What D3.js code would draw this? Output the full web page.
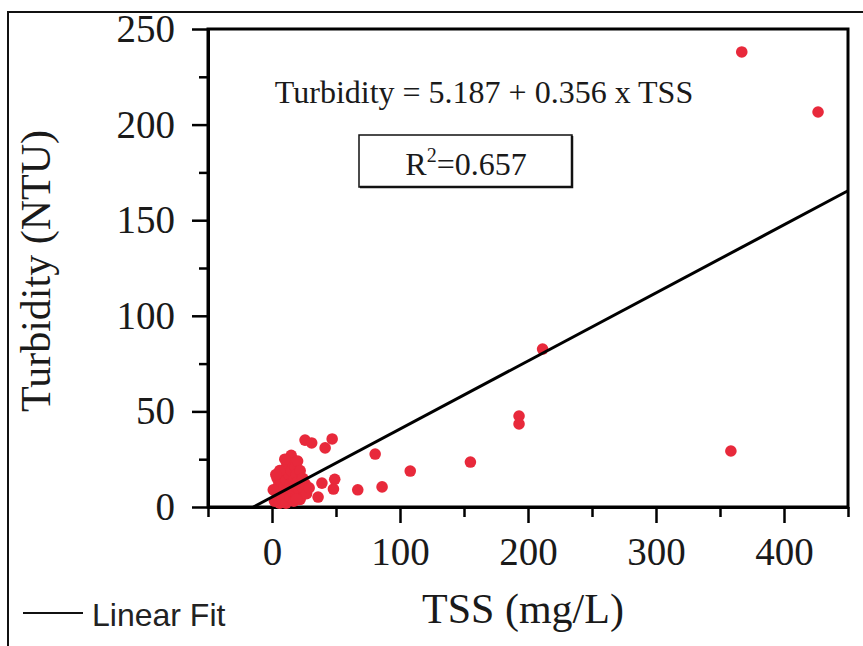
<!DOCTYPE html>
<html>
<head>
<meta charset="utf-8">
<script src="https://cdn.jsdelivr.net/npm/d3@7"></script>
<style>
  body { margin: 0; background: #fff; }
  svg { display: block; }
  .serif { font-family: "Liberation Serif", "Times New Roman", serif; fill: #1a1a1a; }
</style>
</head>
<body>
<svg id="chart"></svg>
<script>
// TSS (mg/L) and Turbidity (NTU) readings
var tss = [2, 3, 4, 5, 5, 6, 7, 7, 8, 8, 9, 10, 10, 11, 11, 12, 12, 13, 13, 14,
    14, 15, 15, 16, 16, 17, 17, 18, 18, 19, 19, 20, 20, 21, 22, 22, 24, 24, 26, 27,
    29, 10, 6, 3, 1, 19, 25.8, 31, 41.5, 47, 36, 39, 49, 48, 67, 80.6, 86, 108, 155,
    193, 193, 211.4, 358.5, 367, 426.6];
var turbidity = [3, 8, 15, 11, 5, 2, 7, 13, 17, 4, 10, 20, 6, 14, 2, 22, 9, 17, 25, 12,
    5, 19, 27, 8, 23, 14, 3, 21, 11, 17, 6, 24, 13, 9, 19, 4, 15, 10, 12, 7,
    10, 25, 19, 17, 9, 4, 35, 33.5, 30.9, 35.6, 5.2, 12.5, 14.5, 9.4, 9, 27.7, 10.5, 18.8, 23.5,
    47.6, 43.4, 82.6, 29.3, 238, 206.6];

var xMajor = [0, 100, 200, 300, 400];
var xMinor = [-50, 50, 150, 250, 350, 450];
var yMajor = [0, 50, 100, 150, 200, 250];
var yMinor = [25, 75, 125, 175, 225];

var intercept = 5.187;
var slope = 0.356;
var rSquared = "0.657";

var width = 863, height = 646;
var margin = { left: 208, top: 29, right: 15, bottom: 139 };

var svg = d3.select("#chart").attr("width", width).attr("height", height);

var x = d3.scaleLinear().domain([-50, 450]).range([margin.left, width - margin.right]);
var y = d3.scaleLinear().domain([0, 250]).range([height - margin.bottom, margin.top]);

// outer frame (cropped at right/bottom)
svg.append("path")
    .attr("d", "M8,646 L8,12 L863,12")
    .attr("fill", "none")
    .attr("stroke", "#111")
    .attr("stroke-width", 2);

// plot box
svg.append("rect")
    .attr("x", x(-50)).attr("y", y(250))
    .attr("width", x(450) - x(-50)).attr("height", y(0) - y(250))
    .attr("fill", "none").attr("stroke", "#000").attr("stroke-width", 3);

// minor ticks
var yMinorAxis = d3.axisLeft(y).tickValues(yMinor).tickSize(9).tickSizeOuter(0).tickFormat("");
var xMinorAxis = d3.axisBottom(x).tickValues(xMinor).tickSize(10).tickSizeOuter(0).tickFormat("");

svg.append("g").attr("transform", "translate(" + x(-50) + ",0)").call(yMinorAxis);
svg.append("g").attr("transform", "translate(0," + y(0) + ")").call(xMinorAxis);

var yAxis = d3.axisLeft(y).tickValues(yMajor).tickSize(16).tickSizeOuter(0).tickPadding(17);
var xAxis = d3.axisBottom(x).tickValues(xMajor).tickSize(16).tickSizeOuter(0).tickPadding(14);

var gy = svg.append("g").attr("transform", "translate(" + x(-50) + ",0)").call(yAxis);
var gx = svg.append("g").attr("transform", "translate(0," + y(0) + ")").call(xAxis);

svg.selectAll(".domain").attr("stroke", "#000").attr("stroke-width", 3);
svg.selectAll(".tick line").attr("stroke", "#000").attr("stroke-width", 2.5);
svg.selectAll(".tick text")
    .attr("class", "serif")
    .style("font-size", "39px");

// points
var pts = tss.map(function (d, i) { return [d, turbidity[i]]; });
svg.append("g").selectAll("circle")
    .data(pts)
    .enter().append("circle")
    .attr("cx", function (d) { return x(d[0]); })
    .attr("cy", function (d) { return y(d[1]); })
    .attr("r", 5.8)
    .attr("fill", "#e8293b");

// fit line
var x0 = -intercept / slope;
svg.append("line")
    .attr("x1", x(x0)).attr("y1", y(intercept + slope * x0))
    .attr("x2", x(450)).attr("y2", y(intercept + slope * 450))
    .attr("stroke", "#000").attr("stroke-width", 3);

// equation
svg.append("text")
    .attr("class", "serif")
    .attr("x", 484).attr("y", 103)
    .attr("text-anchor", "middle")
    .style("font-size", "32px")
    .text("Turbidity = " + intercept + " + " + slope + " x TSS");

// R2 box
svg.append("rect")
    .attr("x", 359).attr("y", 135).attr("width", 213).attr("height", 52)
    .attr("fill", "#fff").attr("stroke", "#111").attr("stroke-width", 1.5);
svg.append("path")
    .attr("d", "M572,136 L572,187 L360,187")
    .attr("fill", "none").attr("stroke", "#111").attr("stroke-width", 2.5);
var r2 = svg.append("text")
    .attr("class", "serif")
    .attr("x", 466).attr("y", 175)
    .attr("text-anchor", "middle")
    .style("font-size", "32px");
r2.append("tspan").text("R");
r2.append("tspan").attr("dy", -13).style("font-size", "20px").text("2");
r2.append("tspan").attr("dy", 13).text("=" + rSquared);

// axis titles
svg.append("text")
    .attr("class", "serif")
    .attr("transform", "translate(50," + 271 + ") rotate(-90)")
    .attr("text-anchor", "middle")
    .style("font-size", "42px")
    .text("Turbidity (NTU)");

svg.append("text")
    .attr("class", "serif")
    .attr("x", 523).attr("y", 623)
    .attr("text-anchor", "middle")
    .style("font-size", "42px")
    .text("TSS (mg/L)");

// legend
svg.append("line")
    .attr("x1", 23).attr("x2", 83).attr("y1", 613).attr("y2", 613)
    .attr("stroke", "#111").attr("stroke-width", 2);
svg.append("text")
    .attr("x", 92).attr("y", 626)
    .style("font-family", "'Liberation Sans', Arial, sans-serif")
    .style("font-size", "32px")
    .attr("fill", "#222")
    .text("Linear Fit");
</script>
</body>
</html>
